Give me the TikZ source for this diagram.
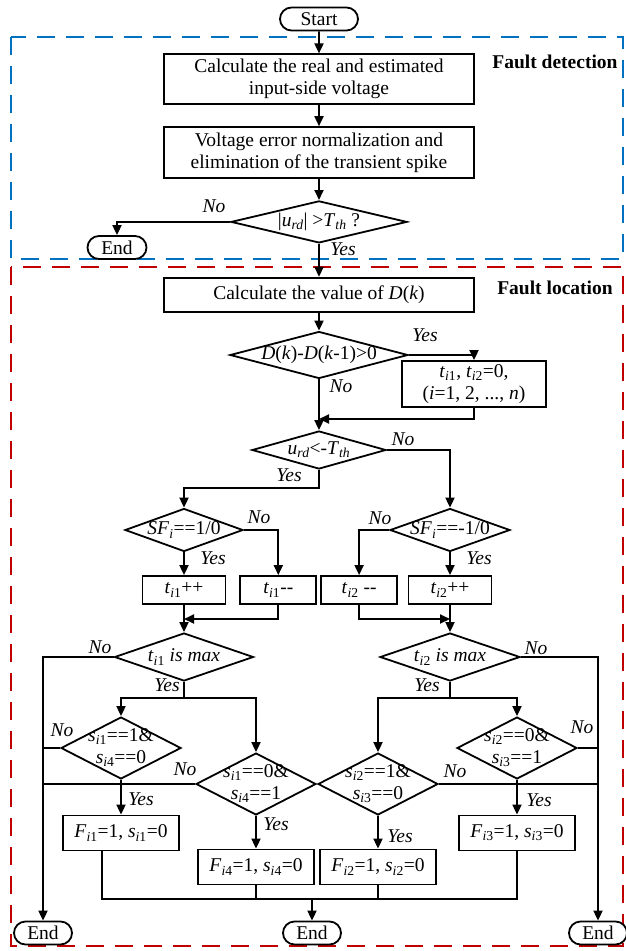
\documentclass[tikz,border=0pt]{standalone}
\usepackage{fontspec}
\setmainfont{Liberation Serif}
\usetikzlibrary{positioning,calc}
\usetikzlibrary{arrows.meta}
\usetikzlibrary{shapes.geometric,shapes.misc}
\definecolor{detblue}{RGB}{0,112,192}
\definecolor{locred}{RGB}{192,0,0}
\newcommand{\ix}[3]{\textit{#1}\textsubscript{\textit{#2}#3}}
\newcommand{\dtext}[1]{\makebox[0pt]{#1}}
\newcommand{\dtwo}[2]{\makebox[0pt]{\begin{tabular}{@{}c@{}}#1\\#2\end{tabular}}}

\begin{document}
\begin{tikzpicture}[x=1pt,y=-1pt,
         font=\fontsize{19.5}{22}\selectfont,
         term/.style = {rounded rectangle, draw, line width=1.8pt, fill=white,
            inner sep=0pt, minimum height=23pt, minimum width=#1},
         proc/.style = {rectangle, draw, line width=1.8pt, fill=white,
            inner sep=0pt, align=center, minimum width=#1},
         dec/.style = {diamond, draw, line width=1.8pt, fill=white, inner sep=0pt},
         lbl/.style = {inner sep=0pt, font=\fontsize{19.5}{22}\selectfont\itshape},
         zone/.style = {line width=2pt, dash pattern=on 18pt off 11pt},
         flow/.style = {line width=1.8pt, -{Triangle[length=10pt,width=9pt]}},
         line/.style = {line width=1.8pt}
]
   \useasboundingbox (0,0) rectangle (626,951);

   % zones
   \draw[zone, detblue] (11,37) rectangle (623,259);
   \draw[zone, locred] (11,267) rectangle (623,946);
   \node[font=\fontsize{19.5}{22}\selectfont\bfseries] (zdet) at (555,62) {Fault detection};
   \node[font=\fontsize{19.5}{22}\selectfont\bfseries] (zloc) at (555,288) {Fault location};

   % detection part
   \node[term=78pt] (start) at (319,19) {Start};
   \node[proc=310pt, minimum height=50pt, below=22pt of start] (b1)
      {Calculate the real and estimated\\input-side voltage};
   \node[proc=310pt, minimum height=51pt, below=21pt of b1] (b2)
      {Voltage error normalization and\\elimination of the transient spike};
   \node[dec, minimum width=176pt, minimum height=42pt, below=21pt of b2] (d1)
      {\dtext{|\ix{u}{rd}{}| >\ix{T}{th}{} ?}};
   \node[term=59pt] (e1) at (117,247.5) {End};

   % location part
   \node[proc=310pt, minimum height=34pt, below=33pt of d1] (b3)
      {Calculate the value of \textit{D}(\textit{k})};
   \node[dec, minimum width=178pt, minimum height=47pt, below=18pt of b3] (d2)
      {\dtext{\textit{D}(\textit{k})-\textit{D}(\textit{k}-1)>0}};
   \node[proc=144pt, minimum height=46pt] (b4) at (474,384)
      {\ix{t}{i}{1}, \ix{t}{i}{2}=0,\\(\textit{i}=1, 2, ..., \textit{n})};
   \node[dec, minimum width=134pt, minimum height=38pt] (d3) at (319,450)
      {\dtext{\ix{u}{rd}{}<-\ix{T}{th}{}}};
   \coordinate (m1) at (319,419);

   \node[dec, minimum width=118pt, minimum height=43pt] (d4) at (184,530)
      {\dtext{\ix{SF}{i}{}==1/0}};
   \node[dec, minimum width=120pt, minimum height=43pt] (d5) at (450,530)
      {\dtext{\ix{SF}{i}{}==-1/0}};

   \node[proc=83pt, minimum height=28pt] (t11) at (184,590) {\ix{t}{i}{1}++};
   \node[proc=76pt, minimum height=28pt, right=13pt of t11] (t12) {\ix{t}{i}{1}-{}-};
   \node[proc=76pt, minimum height=28pt, right=3pt of t12] (t22) {\ix{t}{i}{2} -{}-};
   \node[proc=83pt, minimum height=28pt] (t21) at (450,590) {\ix{t}{i}{2}++};
   \coordinate (m2) at (184,619);
   \coordinate (m3) at (450,619);

   \node[dec, minimum width=139pt, minimum height=48pt] (d6) at (184,657)
      {\dtext{\ix{t}{i}{1} \textit{is max}}};
   \node[dec, minimum width=140pt, minimum height=48pt] (d7) at (450,657)
      {\dtext{\ix{t}{i}{2} \textit{is max}}};

   \node[dec, minimum width=120pt, minimum height=62pt] (d8) at (121,748)
      {\dtwo{\ix{s}{i}{1}==1\&}{\ix{s}{i}{4}==0}};
   \node[dec, minimum width=120pt, minimum height=62pt] (d9) at (256,784)
      {\dtwo{\ix{s}{i}{1}==0\&}{\ix{s}{i}{4}==1}};
   \node[dec, minimum width=120pt, minimum height=62pt] (d10) at (378,784)
      {\dtwo{\ix{s}{i}{2}==1\&}{\ix{s}{i}{3}==0}};
   \node[dec, minimum width=120pt, minimum height=62pt] (d11) at (517,748)
      {\dtwo{\ix{s}{i}{2}==0\&}{\ix{s}{i}{3}==1}};

   \node[proc=116pt, minimum height=35pt] (f1) at (121,833) {\ix{F}{i}{1}=1, \ix{s}{i}{1}=0};
   \node[proc=116pt, minimum height=35pt] (f4) at (256,867) {\ix{F}{i}{4}=1, \ix{s}{i}{4}=0};
   \node[proc=116pt, minimum height=35pt] (f2) at (378,867) {\ix{F}{i}{2}=1, \ix{s}{i}{2}=0};
   \node[proc=116pt, minimum height=35pt] (f3) at (517,833) {\ix{F}{i}{3}=1, \ix{s}{i}{3}=0};
   \coordinate (bm) at (312,899);

   \node[term=58pt] (eL) at (43,933) {End};
   \node[term=58pt] (eM) at (312,933) {End};
   \node[term=58pt] (eR) at (598,933) {End};

   % connectors
   \draw[flow] (start) -- (b1);
   \draw[flow] (b1) -- (b2);
   \draw[flow] (b2) -- (d1);
   \draw[flow] (d1.west) -| (e1.north);
   \draw[flow] (d1) -- (b3);
   \draw[flow] (b3) -- (d2);
   \draw[flow] (d2.east) -| (b4.north);
   \draw[flow] (d2) -- (d3);
   \draw[flow] (b4.south) |- (m1);
   \draw[flow] (d3.south) -- ++(0,18) -| (d4.north);
   \draw[flow] (d3.east) -| (d5.north);
   \draw[flow] (d4) -- (t11);
   \draw[flow] (d4.east) -| (t12.north);
   \draw[flow] (d5) -- (t21);
   \draw[flow] (d5.west) -| (t22.north);
   \draw[flow] (t12.south) |- (m2);
   \draw[flow] (t22.south) |- (m3);
   \draw[flow] (t11) -- (d6);
   \draw[flow] (t21) -- (d7);
   \draw[flow] (d6.west) -| (eL.north);
   \draw[flow] (d7.east) -| (eR.north);
   \draw[flow] (d6.south) -- ++(0,16) coordinate (j6) -| (d8.north);
   \draw[flow] (j6) -| (d9.north);
   \draw[flow] (d7.south) -- ++(0,16) coordinate (j7) -| (d11.north);
   \draw[flow] (j7) -| (d10.north);
   \draw[line] (d8.west) -- (d8.west -| eL.north);
   \draw[line] (d9.west) -- (d9.west -| eL.north);
   \draw[line] (d10.east) -- (d10.east -| eR.north);
   \draw[line] (d11.east) -- (d11.east -| eR.north);
   \draw[flow] (d8) -- (f1);
   \draw[flow] (d9) -- (f4);
   \draw[flow] (d10) -- (f2);
   \draw[flow] (d11) -- (f3);
   \draw[line] ([xshift=-19pt]f1.south) |- (bm) -| (f3.south);
   \draw[line] (f4.south) -- (f4.south |- bm);
   \draw[line] (f2.south) -- (f2.south |- bm);
   \draw[flow] (bm) -- (eM.north);

   % branch labels
   \node[lbl] (no1) at (214,206) {No};
   \node[lbl] (yes1) at (343,249) {Yes};
   \node[lbl] (yes2) at (425,335) {Yes};
   \node[lbl] (no2) at (341,386) {No};
   \node[lbl] (no3) at (403,439) {No};
   \node[lbl] (yes3) at (289,475) {Yes};
   \node[lbl] (no4) at (259,517) {No};
   \node[lbl] (yes4) at (213,558) {Yes};
   \node[lbl] (no5) at (380,518) {No};
   \node[lbl] (yes5) at (479,558) {Yes};
   \node[lbl] (no6) at (100,647) {No};
   \node[lbl] (yes6) at (167,685) {Yes};
   \node[lbl] (no7) at (536,648) {No};
   \node[lbl] (yes7) at (427,685) {Yes};
   \node[lbl] (no8) at (62,730) {No};
   \node[lbl] (yes8) at (141,799) {Yes};
   \node[lbl] (no9) at (185,769) {No};
   \node[lbl] (yes9) at (276,824) {Yes};
   \node[lbl] (no10) at (455,771) {No};
   \node[lbl] (yes10) at (400,836) {Yes};
   \node[lbl] (no11) at (582,727) {No};
   \node[lbl] (yes11) at (539,800) {Yes};
\end{tikzpicture}
\end{document}
